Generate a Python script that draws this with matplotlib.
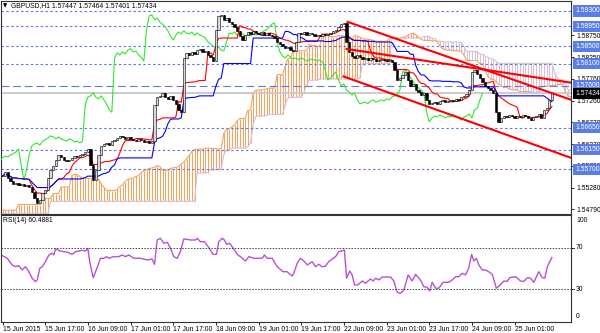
import numpy as np
import pandas as pd
import matplotlib
matplotlib.use('Agg')
import matplotlib.pyplot as plt
from matplotlib.transforms import blended_transform_factory

plt.rcParams['font.family'] = ['Liberation Sans', 'DejaVu Sans']
FS = 4.9

# H1 closes, 15 Jun 2015 .. 25 Jun 2015
closes = [
    1.5555, 1.5564, 1.5550, 1.5543, 1.5537, 1.5539, 1.5534, 1.5537, 1.5532, 1.5534,
    1.5530, 1.5518, 1.5505, 1.5493, 1.5500, 1.5516, 1.5523, 1.5550, 1.5568, 1.5578,
    1.5591, 1.5603, 1.5598, 1.5591, 1.5589, 1.5591, 1.5596, 1.5600, 1.5598, 1.5603,
    1.5605, 1.5609, 1.5616, 1.5580, 1.5546, 1.5568, 1.5603, 1.5623, 1.5628, 1.5630,
    1.5625, 1.5634, 1.5637, 1.5641, 1.5646, 1.5644, 1.5639, 1.5644, 1.5639, 1.5637,
    1.5634, 1.5639, 1.5637, 1.5632, 1.5634, 1.5630, 1.5634, 1.5716, 1.5734, 1.5737,
    1.5744, 1.5734, 1.5730, 1.5737, 1.5728, 1.5719, 1.5705, 1.5700, 1.5823, 1.5835,
    1.5830, 1.5837, 1.5832, 1.5841, 1.5844, 1.5837, 1.5839, 1.5830, 1.5825, 1.5816,
    1.5887, 1.5919, 1.5921, 1.5910, 1.5914, 1.5905, 1.5900, 1.5894, 1.5885, 1.5873,
    1.5864, 1.5875, 1.5882, 1.5878, 1.5885, 1.5880, 1.5878, 1.5882, 1.5875, 1.5880,
    1.5875, 1.5873, 1.5869, 1.5860, 1.5855, 1.5850, 1.5846, 1.5848, 1.5841, 1.5839,
    1.5860, 1.5880, 1.5878, 1.5882, 1.5875, 1.5880, 1.5878, 1.5873, 1.5875, 1.5873,
    1.5878, 1.5875, 1.5878, 1.5880, 1.5885, 1.5887, 1.5894, 1.5900, 1.5903, 1.5860,
    1.5837, 1.5828, 1.5823, 1.5830, 1.5825, 1.5821, 1.5823, 1.5819, 1.5823, 1.5821,
    1.5816, 1.5819, 1.5821, 1.5819, 1.5816, 1.5819, 1.5814, 1.5796, 1.5773, 1.5778,
    1.5785, 1.5791, 1.5773, 1.5760, 1.5764, 1.5750, 1.5746, 1.5739, 1.5744, 1.5728,
    1.5719, 1.5721, 1.5723, 1.5719, 1.5725, 1.5728, 1.5723, 1.5725, 1.5728, 1.5725,
    1.5730, 1.5728, 1.5734, 1.5737, 1.5741, 1.5750, 1.5791, 1.5796, 1.5787, 1.5778,
    1.5769, 1.5760, 1.5755, 1.5750, 1.5744, 1.5700, 1.5678, 1.5687, 1.5691, 1.5689,
    1.5694, 1.5691, 1.5687, 1.5691, 1.5689, 1.5694, 1.5691, 1.5687, 1.5682, 1.5689,
    1.5691, 1.5696, 1.5687, 1.5705, 1.5709, 1.5728, 1.57434,
]

# cloud before enough history is on the chart (read as flat steps)
span_a_early_level = [1.5477, 1.5490, 1.5504, 1.5515, 1.5530]
span_a_early_len = [6, 9, 4, 3, 4]
span_b_early_level = [1.5470, 1.5497, 1.5562]
span_b_early_len = [18, 55, 5]

# RSI(14): bar index, value
rsi_bar = [0, 1.8, 3.6, 4.9, 6.1, 7.4, 8.6, 9.9, 11.1, 12.4, 13, 14, 14.9, 16.1, 17.4, 18.6,
           19.2, 19.9, 21.7, 24.3, 26.1, 27.4, 29.9, 31.1, 32, 32.7, 34, 34.9, 36.1, 36.7,
           38, 39, 39.9, 41.7, 43.6, 44.9, 46.1, 47.4, 49.2, 51.7, 54.3, 56.1, 57, 58, 59.2,
           60.5, 61.8, 63, 64.2, 65.5, 66.7, 68, 70.5, 72.4, 73, 74.2, 75.7, 77.4, 78.9,
           80.2, 81.1, 82.4, 83.2, 84, 85.2, 86.1, 87.4, 88.2, 89.2, 91.1, 92.4, 94.2, 97.4,
           98.2, 99.2, 101.1, 103, 105.2, 106.7, 108.6, 109.2, 110.5, 111.7, 113, 114.3,
           116.1, 117.4, 118.6, 119.9, 121.1, 122.3, 124.9, 126.1, 127.4, 128.2, 129,
           130.2, 131.1, 132, 133.2, 134.9, 136.1, 138, 139, 139.9, 141.1, 142.4, 145.5,
           146.7, 148, 149.2, 150.5, 152.1, 153.6, 154.9, 156.7, 158, 159.2, 160.2, 161.1,
           162.4, 163.6, 165.2, 167.3, 168.6, 169.9, 171.1, 172.4, 173.6, 174.8, 175.9,
           176.7, 177.7, 178.6, 179.9, 181.1, 182.3, 183.6, 185.2, 186.6, 188, 189.2,
           190.2, 192.4, 194.2, 195.5, 196.8, 198, 199.2, 201.1, 202.4, 203.3, 204.3,
           205.3, 206]
rsi_val = [62.3, 59.8, 53.4, 51.7, 52.7, 48.6, 51.7, 46.9, 40.6, 37.3, 38.9, 50.2, 51.7, 56.5,
           63.0, 64.6, 63.0, 68.8, 66.8, 65.6, 63.6, 66.2, 67.5, 66.8, 69.4, 56.5, 41.2, 46.9,
           55.0, 59.8, 59.8, 61.4, 59.8, 61.4, 61.4, 63.0, 61.4, 63.0, 59.8, 59.8, 58.2, 59.1,
           54.0, 77.4, 79.0, 74.2, 75.2, 69.4, 61.4, 59.8, 66.2, 78.4, 77.4, 77.4, 79.0, 75.8,
           75.8, 70.0, 63.6, 63.6, 75.8, 79.0, 77.4, 73.3, 74.2, 71.0, 66.2, 63.0, 61.4, 57.2,
           61.4, 59.8, 59.8, 63.0, 59.8, 59.8, 51.7, 46.9, 46.9, 42.8, 45.4, 55.0, 59.8, 57.2,
           53.4, 56.5, 51.7, 54.0, 51.7, 52.2, 56.5, 61.4, 66.2, 67.1, 67.8, 40.6, 47.6, 43.8,
           34.1, 34.1, 38.0, 35.8, 39.9, 38.0, 40.6, 39.0, 41.8, 41.8, 38.0, 27.1, 26.1, 29.3,
           43.8, 38.0, 44.4, 38.9, 32.5, 31.9, 28.4, 36.7, 31.0, 31.0, 36.7, 36.7, 38.9, 42.1,
           42.1, 45.4, 43.8, 50.2, 63.6, 57.2, 59.8, 53.4, 48.6, 48.6, 46.9, 44.4, 31.0, 34.1,
           38.0, 37.5, 41.2, 42.1, 38.0, 37.5, 41.2, 40.6, 36.7, 46.9, 41.2, 40.6, 51.7, 57.2,
           60.49]

# objects on the chart
level_lines = [1.59300, 1.58950, 1.58500, 1.58100, 1.56650, 1.56150, 1.55700]
dash_level = 1.57600
bid_price = 1.57434
scale_labels = [1.58750, 1.58250, 1.57760, 1.57260, 1.56770, 1.56270, 1.55780, 1.55280, 1.54790]
# channel trend lines: (bar, price) start and end
trend_bars = [(129.0, 213.2), (128.6, 213.2), (127.5, 213.2)]
trend_prices = [(1.59061, 1.57280), (1.58440, 1.57670), (1.57820, 1.55960)]
time_labels = ['15 Jun 2015', '15 Jun 17:00', '16 Jun 09:00', '17 Jun 01:00', '17 Jun 17:00',
               '18 Jun 09:00', '19 Jun 01:00', '19 Jun 17:00', '22 Jun 09:00', '23 Jun 01:00',
               '23 Jun 17:00', '24 Jun 09:00', '25 Jun 01:00']

# ---- series ----
c = pd.Series(closes)
o = pd.Series(np.r_[closes[0], closes[:-1]])
hi = np.maximum(o, c)
lo = np.minimum(o, c)
n = len(c)
idx = np.arange(n)

def mid(k):
    return (hi.rolling(k, min_periods=1).max() + lo.rolling(k, min_periods=1).min()) / 2

tenkan = mid(9)
kijun = mid(26)
span_a = np.r_[np.repeat(span_a_early_level, span_a_early_len), ((tenkan + kijun) / 2).values]
span_b = np.r_[np.repeat(span_b_early_level, span_b_early_len), mid(52).values[52:]]
cloud_x = np.arange(len(span_a))

W, H = 600, 333
fig = plt.figure(figsize=(W / 100, H / 100), dpi=100)

def box(x0, y0, x1, y1):
    return [x0 / W, 1 - y1 / H, (x1 - x0) / W, (y1 - y0) / H]

ax = fig.add_axes(box(0.5, 1, 571, 214))
rax = fig.add_axes(box(0.5, 215, 571, 322))
xlim = (-0.75, 213.16)
ax.set_xlim(*xlim)
ax.set_ylim(1.54684, 1.59527)
rax.set_xlim(*xlim)
rax.set_ylim(-1.44, 101.4)

sandy = '#F4A460'
thistle = '#D8BFD8'
blue = '#5b7be6'

# cloud hatch
up_cloud = span_a >= span_b
ax.vlines(cloud_x[up_cloud], span_b[up_cloud], span_a[up_cloud], color=sandy, lw=0.75, zorder=1)
ax.vlines(cloud_x[~up_cloud], span_a[~up_cloud], span_b[~up_cloud], color=thistle, lw=0.75, zorder=1)
ax.plot(cloud_x, span_a, color=sandy, lw=0.8, zorder=1.5)
ax.plot(cloud_x, span_b, color=thistle, lw=0.8, zorder=1.5)

# horizontal levels
for v in level_lines:
    ax.axhline(v, color=blue, lw=0.8, dashes=(2.2, 2.2), zorder=2)
ax.axhline(dash_level, color=blue, lw=0.8, dashes=(7, 3.5), zorder=2)
ax.axhline(bid_price, color='#c8c8c8', lw=1.3, zorder=2)

# ichimoku lines
ax.plot(idx - 26, c, color='#2fe82f', lw=0.8, zorder=3)
ax.plot(idx, tenkan, color='#ff0000', lw=0.8, zorder=3)
ax.plot(idx, kijun, color='#0000ff', lw=0.8, zorder=3)

# candles
bull = (c >= o).values
ax.vlines(idx, lo, hi, color='black', lw=0.6, zorder=4)
ax.bar(idx[bull], (c - o)[bull], bottom=o[bull], width=0.8, color='#d8d8d8',
       edgecolor='black', lw=0.4, zorder=4)
ax.bar(idx[~bull], (c - o)[~bull], bottom=o[~bull], width=0.8, color='black',
       edgecolor='black', lw=0.4, zorder=4)

# channel
for xs, ys in zip(trend_bars, trend_prices):
    ax.plot(xs, ys, color='#ff0000', lw=1.5, zorder=5, solid_capstyle='butt')

# price scale
ax.set_xticks([])
ax.yaxis.tick_right()
ax.set_yticks(scale_labels)
ax.set_yticklabels([f'{v:.5f}' for v in scale_labels])
ax.tick_params(axis='y', length=2.2, width=0.6, pad=1.5, labelsize=FS)

lab_tr = blended_transform_factory(fig.transFigure, ax.transData)
for v in level_lines + [dash_level]:
    ax.text(575.5 / W, v, f'{v:.5f}', transform=lab_tr, fontsize=FS, color='white',
            va='center', ha='left', clip_on=False, zorder=10,
            bbox=dict(boxstyle='square,pad=0.3', fc='#5a7ee6', ec='none'))
ax.text(575.5 / W, bid_price, f'{bid_price:.5f}', transform=lab_tr, fontsize=FS, color='white',
        va='center', ha='left', clip_on=False, zorder=10,
        bbox=dict(boxstyle='square,pad=0.3', fc='black', ec='none'))

# RSI
rax.plot(rsi_bar, rsi_val, color='#b552d9', lw=1.0)
for lv in (70, 30):
    rax.axhline(lv, color='#444444', lw=0.7, dashes=(1.5, 1.5))
rax.set_yticks([])
rsi_tr = blended_transform_factory(fig.transFigure, rax.transData)
for txt, yv in (('100', 96.5), ('70', 70), ('30', 30), ('0', 3.5)):
    rax.text(576 / W, yv, txt, transform=rsi_tr, fontsize=FS, va='center', ha='left',
             clip_on=False)
    if txt in ('70', '30'):
        rax.plot([571 / W, 574 / W], [yv, yv], transform=rsi_tr, color='black', lw=0.6,
                 clip_on=False)

rax.set_xticks(np.arange(0, n, 16))
rax.set_xticklabels(time_labels)
rax.tick_params(axis='x', direction='out', length=2.5, width=0.6, pad=0.4, labelsize=FS)
for t in rax.get_xticklabels():
    t.set_ha('left')

for a in (ax, rax):
    for s in a.spines.values():
        s.set_color('#333333')
        s.set_linewidth(0.8)

fig.text(2.5 / W, 1 - 5.5 / H, '\u25bc', fontsize=4, family='DejaVu Sans', va='center', ha='left')
fig.text(11 / W, 1 - 5.5 / H, 'GBPUSD,H1 1.57447 1.57464 1.57401 1.57434', fontsize=FS,
         va='center', ha='left')
fig.text(3 / W, 1 - 221 / H, 'RSI(14) 60.4881', fontsize=FS, va='center', ha='left')

fig.savefig('out.png', dpi=100)
